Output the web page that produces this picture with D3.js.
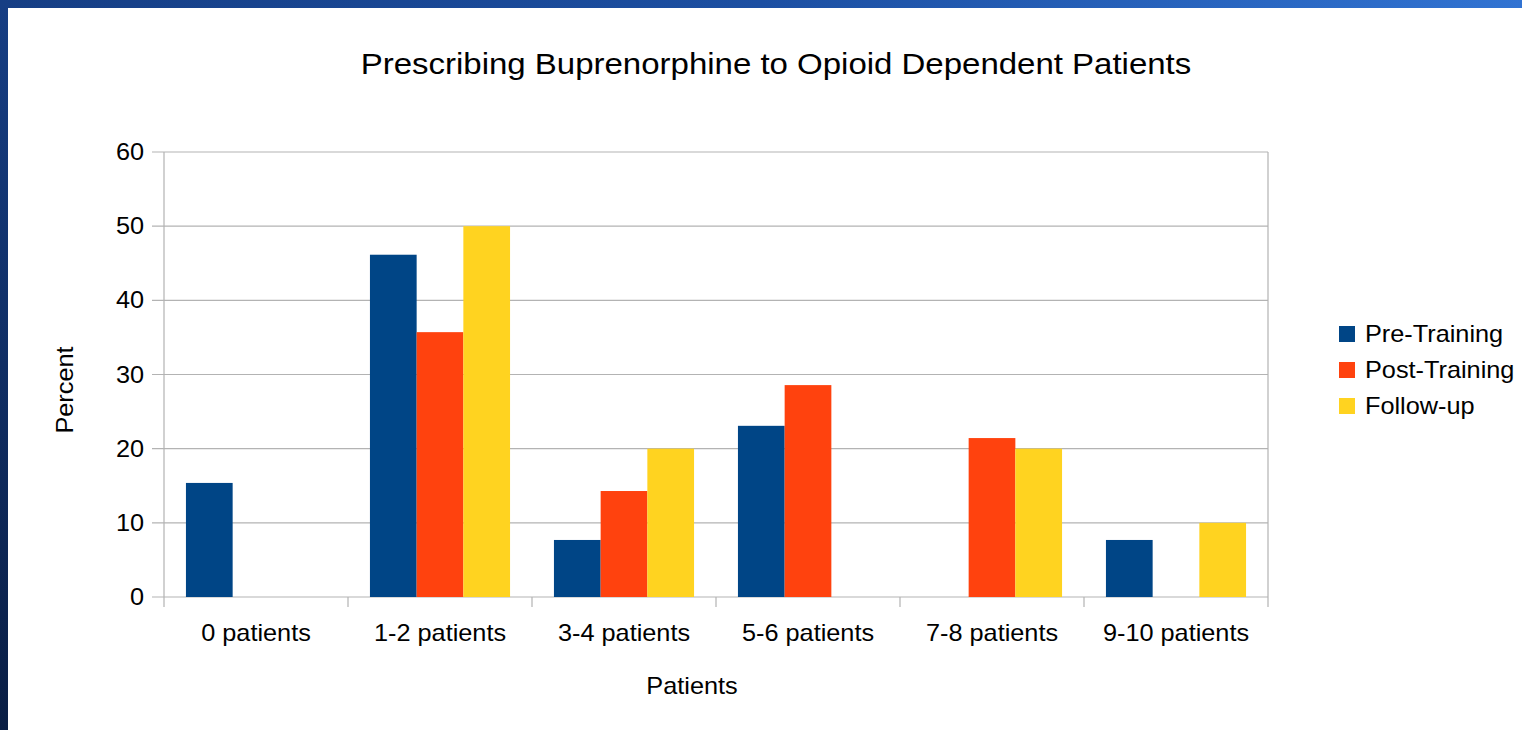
<!DOCTYPE html>
<html>
<head>
<meta charset="utf-8">
<script src="https://cdn.jsdelivr.net/npm/d3@7"></script>
<style>
  body { margin: 0; background: #fff; }
  svg text { font-family: "Liberation Sans", Arial, sans-serif; fill: #000; }
</style>
</head>
<body>
<svg id="chart"></svg>
<script>
var width = 1522, height = 730;
var margin = {top: 152, right: 254, bottom: 133, left: 164};
var stretch = 1.1; // text in the original renders a bit wide

var categories = ["0 patients", "1-2 patients", "3-4 patients", "5-6 patients", "7-8 patients", "9-10 patients"];
var seriesNames = ["Pre-Training", "Post-Training", "Follow-up"];
var preTraining = [15.38, 46.15, 7.69, 23.08, 0, 7.69];
var postTraining = [0, 35.71, 14.29, 28.57, 21.43, 0];
var followUp = [0, 50, 20, 0, 20, 10];
var yTicks = [0, 10, 20, 30, 40, 50, 60];
var colors = ["#004586", "#ff420e", "#ffd320"];

var series = [preTraining, postTraining, followUp];

var svg = d3.select("#chart").attr("width", width).attr("height", height);

// places a text at (x,y), widened a little
function label(parent, x, y, str, size, anchor, rot) {
  return parent.append("text")
    .attr("transform", "translate(" + x + "," + y + ")" + (rot ? " rotate(" + rot + ")" : "") + " scale(" + stretch + ",1)")
    .attr("text-anchor", anchor || "start")
    .style("font-size", size + "px")
    .text(str);
}

// slide background frame
var defs = svg.append("defs");
var gTop = defs.append("linearGradient").attr("id", "topband");
gTop.append("stop").attr("offset", "0%").attr("stop-color", "#163e84");
gTop.append("stop").attr("offset", "50%").attr("stop-color", "#1c4fa2");
gTop.append("stop").attr("offset", "100%").attr("stop-color", "#3173d2");
var gLeft = defs.append("linearGradient").attr("id", "leftband")
    .attr("x1", 0).attr("y1", 0).attr("x2", 0).attr("y2", 1);
gLeft.append("stop").attr("offset", "0%").attr("stop-color", "#163e84");
gLeft.append("stop").attr("offset", "100%").attr("stop-color", "#0a1e44");

svg.append("rect").attr("x", 0).attr("y", 0).attr("width", 8).attr("height", height).attr("fill", "url(#leftband)");
svg.append("rect").attr("x", 0).attr("y", 0).attr("width", width).attr("height", 8).attr("fill", "url(#topband)");

var plotW = 1268 - margin.left;
var plotH = 597 - margin.top;

var g = svg.append("g").attr("transform", "translate(" + margin.left + "," + margin.top + ")");

var x0 = d3.scaleBand().domain(categories).range([0, plotW]).paddingInner(0).paddingOuter(0);
var x1 = d3.scaleBand().domain(seriesNames).range([0, x0.bandwidth()]).paddingInner(0).paddingOuter(0.47);
var y = d3.scaleLinear().domain([0, 60]).range([plotH, 0]);

// horizontal grid
g.selectAll(".grid").data(yTicks).enter().append("line")
  .attr("x1", -12).attr("x2", plotW)
  .attr("y1", function(d) { return y(d); })
  .attr("y2", function(d) { return y(d); })
  .attr("stroke", "#b3b3b3").attr("stroke-width", 1.2);

// left axis line & right border
g.append("line").attr("x1", 0).attr("x2", 0).attr("y1", 0).attr("y2", plotH).attr("stroke", "#b3b3b3").attr("stroke-width", 1.2);
g.append("line").attr("x1", plotW).attr("x2", plotW).attr("y1", 0).attr("y2", plotH + 10).attr("stroke", "#b3b3b3").attr("stroke-width", 1.2);

// category tick marks
var bounds = categories.map(function(c) { return x0(c); });
g.selectAll(".xtick").data(bounds).enter().append("line")
  .attr("x1", function(d) { return d; }).attr("x2", function(d) { return d; })
  .attr("y1", plotH).attr("y2", plotH + 10)
  .attr("stroke", "#b3b3b3").attr("stroke-width", 1.2);

// bars
categories.forEach(function(cat, i) {
  series.forEach(function(s, j) {
    if (s[i] <= 0) return;
    g.append("rect")
      .attr("x", x0(cat) + x1(seriesNames[j]))
      .attr("y", y(s[i]))
      .attr("width", x1.bandwidth())
      .attr("height", plotH - y(s[i]))
      .attr("fill", colors[j]);
  });
});

// y tick labels
yTicks.forEach(function(d) {
  label(g, -20, y(d) + 8, d, 23, "end");
});

// x tick labels
categories.forEach(function(d) {
  label(g, x0(d) + x0.bandwidth() / 2, plotH + 44, d, 23, "middle");
});

// titles
label(svg, 776, 74, "Prescribing Buprenorphine to Opioid Dependent Patients", 30, "middle");
label(svg, 692, 694, "Patients", 23, "middle");
label(svg, 73, 390, "Percent", 23, "middle", -90);

// legend
var legend = svg.append("g").attr("transform", "translate(1339,326)");
seriesNames.forEach(function(name, i) {
  var row = legend.append("g").attr("transform", "translate(0," + (i * 36) + ")");
  row.append("rect").attr("width", 16).attr("height", 16).attr("fill", colors[i]);
  label(row, 26, 16, name, 23, "start");
});
</script>
</body>
</html>
